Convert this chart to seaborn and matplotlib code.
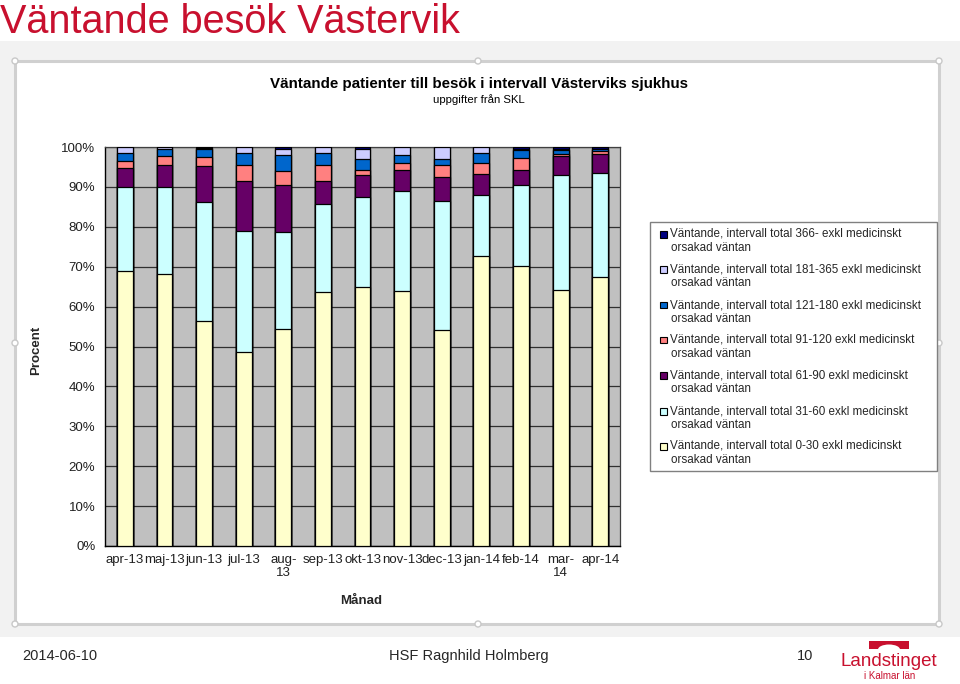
import numpy as np
import pandas as pd
import matplotlib
matplotlib.use("Agg")
import matplotlib.pyplot as plt
from matplotlib.patches import Rectangle, Ellipse
import seaborn as sns

# ---------------- data ----------------
months = ['apr-13', 'maj-13', 'jun-13', 'jul-13', 'aug-13', 'sep-13', 'okt-13',
          'nov-13', 'dec-13', 'jan-14', 'feb-14', 'mar-14', 'apr-14']
month_labels = ['apr-13', 'maj-13', 'jun-13', 'jul-13', 'aug-\n13', 'sep-13', 'okt-13',
                'nov-13', 'dec-13', 'jan-14', 'feb-14', 'mar-\n14', 'apr-14']

v0_30 = [68.8, 68.2, 56.4, 48.6, 54.5, 63.6, 64.8, 63.8, 54.2, 72.6, 70.1, 64.2, 67.4]
v31_60 = [21.2, 21.8, 29.8, 30.4, 24.1, 22.2, 22.7, 25.1, 32.2, 15.4, 20.3, 28.9, 26.2]
v61_90 = [4.8, 5.5, 9.0, 12.5, 12.0, 5.7, 5.4, 5.4, 6.1, 5.3, 3.9, 4.6, 4.6]
v91_120 = [1.7, 2.2, 2.2, 4.1, 3.4, 4.1, 1.4, 1.7, 2.9, 2.7, 2.9, 0.6, 0.8]
v121_180 = [2.1, 1.9, 2.1, 3.0, 4.0, 2.8, 2.8, 2.1, 1.7, 2.5, 2.0, 1.0, 0.4]
v181_365 = [1.4, 0.4, 0.3, 1.4, 1.4, 1.6, 2.3, 1.9, 2.9, 1.5, 0.2, 0.3, 0.2]
v366 = [0.0, 0.0, 0.2, 0.0, 0.6, 0.0, 0.6, 0.0, 0.0, 0.0, 0.6, 0.4, 0.4]

series_names = [
    'Väntande, intervall total 0-30 exkl medicinskt\norsakad väntan',
    'Väntande, intervall total 31-60 exkl medicinskt\norsakad väntan',
    'Väntande, intervall total 61-90 exkl medicinskt\norsakad väntan',
    'Väntande, intervall total 91-120 exkl medicinskt\norsakad väntan',
    'Väntande, intervall total 121-180 exkl medicinskt\norsakad väntan',
    'Väntande, intervall total 181-365 exkl medicinskt\norsakad väntan',
    'Väntande, intervall total 366- exkl medicinskt\norsakad väntan',
]
series_values = [v0_30, v31_60, v61_90, v91_120, v121_180, v181_365, v366]
series_colors = ['#FFFFCC', '#CCFFFF', '#660066', '#FF8080', '#0066CC', '#CCCCFF', '#000080']

yticks = [0, 10, 20, 30, 40, 50, 60, 70, 80, 90, 100]
ytick_labels = ['0%', '10%', '20%', '30%', '40%', '50%', '60%', '70%', '80%', '90%', '100%']

# ---------------- figure ----------------
sns.set_theme(style="white")
plt.rcParams['font.family'] = ['Liberation Sans', 'DejaVu Sans']

W, H = 960, 684
fig = plt.figure(figsize=(W / 100, H / 100), dpi=100, facecolor='white')


def fx(x):
    return x / W


def fy(y):
    return 1 - y / H


# slide background band
fig.patches.append(Rectangle((0, fy(637)), 1, (637 - 41) / H, transform=fig.transFigure,
                             facecolor='#F2F2F2', edgecolor='none', zorder=-3))
# chart frame
fig.patches.append(Rectangle((fx(15), fy(624)), (939 - 15) / W, (624 - 61) / H,
                             transform=fig.transFigure, facecolor='white',
                             edgecolor='#D0D0D0', lw=2.2, zorder=-2))
for (hx, hy) in [(15, 61), (478, 61), (939, 61), (15, 343), (939, 343),
                 (15, 624), (478, 624), (939, 624)]:
    fig.patches.append(Ellipse((fx(hx), fy(hy)), 6 / W, 6 / H, transform=fig.transFigure,
                               facecolor='white', edgecolor='#C8C8C8', lw=1, zorder=-1))

# slide title
fig.text(fx(0), fy(33), 'Väntande besök Västervik', fontsize=28.5, color='#C8102E',
         ha='left', va='baseline')

# chart titles
fig.text(fx(479), fy(84), 'Väntande patienter till besök i intervall Västerviks sjukhus',
         fontsize=10.9, fontweight='bold', ha='center', va='center', color='black')
fig.text(fx(479), fy(100), 'uppgifter från SKL', fontsize=8.2, ha='center', va='center',
         color='black')

# ---------------- axes ----------------
ax = fig.add_axes([fx(105), fy(546), (620 - 105) / W, (546 - 147) / H])
ax.set_zorder(1)
ax.set_facecolor('#C0C0C0')
ax.set_axisbelow(True)

cum = np.cumsum(np.array(series_values), axis=0)
for i in range(len(series_values) - 1, -1, -1):
    df = pd.DataFrame({'Månad': months, 'Procent': cum[i]})
    sns.barplot(data=df, x='Månad', y='Procent', order=months, color=series_colors[i],
                saturation=1, width=0.4, edgecolor='black', linewidth=0.9,
                errorbar=None, ax=ax, zorder=3)

ax.set_ylim(0, 100)
ax.set_xlim(-0.5, len(months) - 0.5)
ax.set_yticks(yticks)
ax.set_yticklabels(ytick_labels, fontsize=9.5, color='#202020')
ax.set_xticks(range(len(months)))
ax.set_xticklabels(month_labels, fontsize=9.5, color='#202020', linespacing=1.05)
ax.set_xticks(np.arange(-0.5, len(months) + 0.5, 1), minor=True)
ax.tick_params(axis='x', which='major', length=0, pad=6)
ax.tick_params(axis='x', which='minor', length=4, width=0.9, color='black', direction='out')
ax.tick_params(axis='y', which='major', length=4, width=0.9, color='black', direction='out', pad=3)
ax.yaxis.grid(True, color='#303030', lw=0.9)
ax.xaxis.grid(False)
ax.set_xlabel('')
ax.set_ylabel('')
for s in ['left', 'bottom']:
    ax.spines[s].set_color('black')
    ax.spines[s].set_linewidth(1)
for s in ['top', 'right']:
    ax.spines[s].set_color('#404040')
    ax.spines[s].set_linewidth(0.9)

fig.text(fx(36), fy(350), 'Procent', rotation=90, fontsize=9.5, fontweight='bold',
         ha='center', va='center')
fig.text(fx(361), fy(601), 'Månad', fontsize=9.5, fontweight='bold', ha='center', va='center')

# ---------------- legend (manual, Excel style) ----------------
fig.patches.append(Rectangle((fx(650), fy(471)), (937 - 650) / W, (471 - 222) / H,
                             transform=fig.transFigure, facecolor='white',
                             edgecolor='#808080', lw=1, zorder=2))
first_line_y = [234, 269, 305, 340, 375, 411, 446]
for k, idx in enumerate(range(len(series_names) - 1, -1, -1)):
    yy = first_line_y[k]
    fig.patches.append(Rectangle((fx(660), fy(yy + 3.5)), 7 / W, 7 / H,
                                 transform=fig.transFigure, facecolor=series_colors[idx],
                                 edgecolor='black', lw=0.8, zorder=3))
    line1, line2 = series_names[idx].split('\n')
    fig.text(fx(670), fy(yy), line1, fontsize=8.4, ha='left', va='center', zorder=3)
    fig.text(fx(671), fy(yy + 14), line2, fontsize=8.4, ha='left', va='center', zorder=3)

# ---------------- footer ----------------
fig.text(fx(22), fy(656), '2014-06-10', fontsize=10.5, ha='left', va='center')
fig.text(fx(469), fy(656), 'HSF Ragnhild Holmberg', fontsize=10.5, ha='center', va='center')
fig.text(fx(797), fy(656), '10', fontsize=10.5, ha='left', va='center')

red = '#C8102E'
fig.patches.append(Rectangle((fx(869), fy(649)), 40 / W, 8 / H, transform=fig.transFigure,
                             facecolor=red, edgecolor='none', zorder=2))
fig.patches.append(Ellipse((fx(889), fy(649.5)), 22 / W, 10 / H, transform=fig.transFigure,
                           facecolor='white', edgecolor='none', zorder=2.1))
fig.text(fx(889), fy(661), 'Landstinget', fontsize=13.5, color=red, ha='center', va='center')
fig.text(fx(890), fy(676), 'i Kalmar län', fontsize=7, color=red, ha='center', va='center')

fig.savefig('out.png', dpi=100, facecolor='white')
